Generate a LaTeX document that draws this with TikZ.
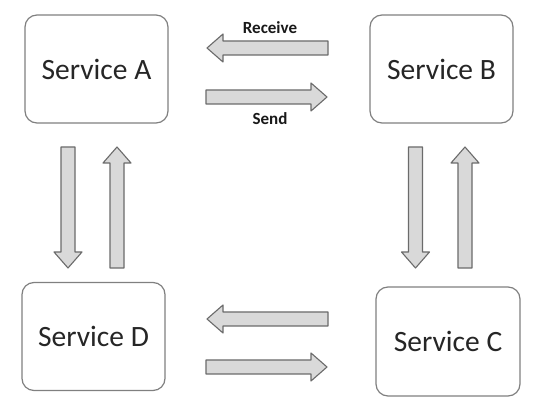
\documentclass[tikz,border=0pt]{standalone}
\usepackage{fontspec}
\setmainfont{Carlito}
\begin{document}
\begin{tikzpicture}[x=1pt,y=-1pt,
  svcbox/.style={draw=black!50, line width=1.2pt, rounded corners=12pt, fill=white,
    minimum width=143pt, minimum height=108pt, inner sep=0pt,
    font=\fontsize{29.5}{34}\selectfont, text=black!85},
  lbl/.style={font=\bfseries\fontsize{17}{20}\selectfont, text=black!90},
  barrowstyle/.style={draw=black!58, line width=1.1pt, fill=black!15, line join=round},
  pics/barrow/.style={code={
    \draw[barrowstyle] (0,-7) -- (105,-7) -- (105,-14) -- (121,0) -- (105,14) -- (105,7) -- (0,7) -- cycle;}}
]
\useasboundingbox (0,0) rectangle (558,417);
\fill[white] (0,0) rectangle (558,417);

\node[svcbox] (A) at (96.5,69) {Service A};
\node[svcbox] (B) at (441.5,69) {Service B};
\node[svcbox] (D) at (93.5,336.5) {Service D};
\node[svcbox, minimum width=144pt, minimum height=109pt] (C) at (448,341.5) {Service C};

\coordinate (recvTail) at (328,48);
\coordinate (sendTail) at (206,97);
\coordinate (cdTail) at (328,319);
\coordinate (dcTail) at (206,367);
\coordinate (adTail) at (68,147);
\coordinate (daTail) at (117,268);
\coordinate (bcTail) at (415.5,147);
\coordinate (cbTail) at (465,268);

\pic[rotate=180] at (recvTail) {barrow};
\pic at (sendTail) {barrow};
\pic[rotate=180] at (cdTail) {barrow};
\pic at (dcTail) {barrow};
\pic[rotate=-90] at (adTail) {barrow};
\pic[rotate=90] at (daTail) {barrow};
\pic[rotate=-90] at (bcTail) {barrow};
\pic[rotate=90] at (cbTail) {barrow};

\node[lbl] (recvLbl) at (270,28) {Receive};
\node[lbl] (sendLbl) at (270,119) {Send};
\end{tikzpicture}
\end{document}
